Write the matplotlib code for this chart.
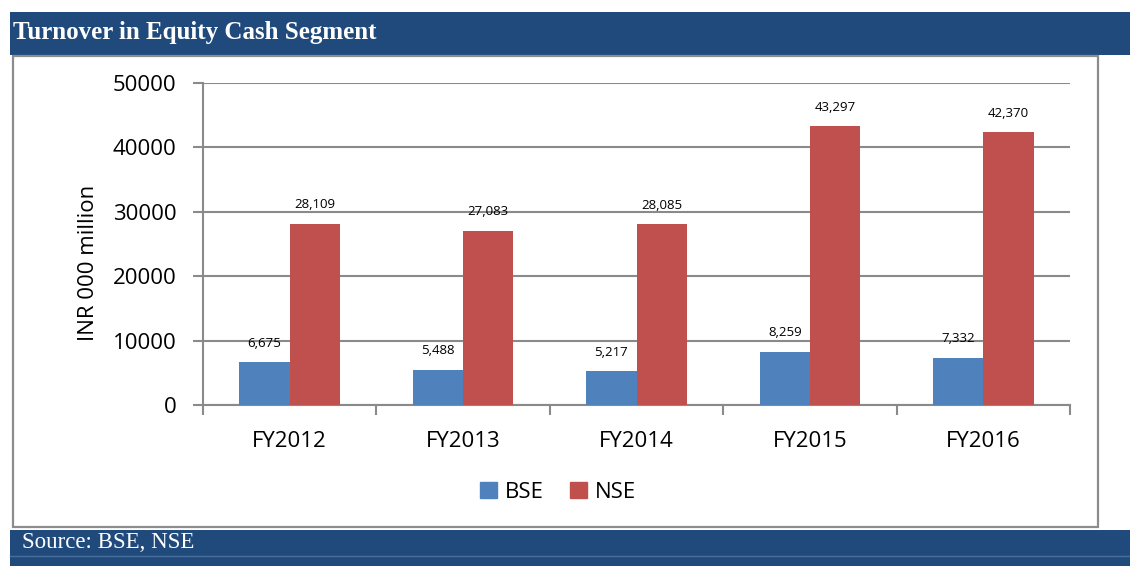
import numpy as np
import matplotlib
matplotlib.use("Agg")
import matplotlib.pyplot as plt
from matplotlib.patches import Rectangle, Patch
from matplotlib.lines import Line2D

# Datos
years = ["FY2012", "FY2013", "FY2014", "FY2015", "FY2016"]
bse = [6675, 5488, 5217, 8259, 7332]
nse = [28109, 27083, 28085, 43297, 42370]
title = "Turnover in Equity Cash Segment"
source = "Source: BSE, NSE"
ylabel = "INR 000 million"

W, H = 1130, 566
fig = plt.figure(figsize=(W / 100, H / 100), dpi=100)
plt.rcParams["font.family"] = ["Open Sans", "DejaVu Sans"]

def fx(px):
    return px / W

def fy(py):
    return 1 - py / H

navy = "#214a7c"
# Cabecera
fig.patches.append(Rectangle((fx(10), fy(55)), fx(W - 10), 43 / H, transform=fig.transFigure,
                             facecolor=navy, edgecolor="none", zorder=0))
fig.text(fx(13), fy(32), title, color="white", fontsize=18, fontweight="bold",
         family="Liberation Serif", va="center", ha="left")
# Marco
fig.patches.append(Rectangle((fx(13), fy(527)), fx(1098 - 13), (527 - 56) / H, transform=fig.transFigure,
                             facecolor="none", edgecolor="#8c8c8c", linewidth=1.6, zorder=0))
# Pie
fig.patches.append(Rectangle((fx(10), 0), fx(W - 10), (H - 530) / H, transform=fig.transFigure,
                             facecolor=navy, edgecolor="none", zorder=0))
fig.lines.append(Line2D([fx(10), 1], [fy(556), fy(556)], transform=fig.transFigure,
                        color="#4a6e9a", linewidth=1))
fig.text(fx(22), fy(543), source, color="white", fontsize=16.5, family="Liberation Serif",
         va="center", ha="left")

# Gráfico
ax = fig.add_axes([fx(203), fy(405), fx(1070 - 203), (405 - 83) / H])
x = np.arange(len(years))
w = 0.29
b1 = ax.bar(x - w / 2, bse, width=w, color="#4f81bd", label="BSE", zorder=3)
b2 = ax.bar(x + w / 2, nse, width=w, color="#c0504d", label="NSE", zorder=3)
for bars, vals in [(b1, bse), (b2, nse)]:
    for r, v in zip(bars, vals):
        ax.annotate(f"{v:,}", (r.get_x() + r.get_width() / 2, v), xytext=(0, 9),
                    textcoords="offset points", ha="center", va="bottom", fontsize=9.5)

ax.set_xlim(-0.5, len(years) - 0.5)
ax.set_ylim(0, 50000)
ax.set_yticks(np.arange(0, 50001, 10000))
ax.yaxis.grid(True, color="#8a8a8a", linewidth=1.5, zorder=0)
ax.set_axisbelow(True)
ax.set_xticks(x)
ax.set_xticklabels(years)
ax.set_xticks(np.arange(-0.5, len(years)), minor=True)
ax.tick_params(axis="x", which="major", length=0, pad=19, labelsize=16)
ax.tick_params(axis="x", which="minor", length=7, width=1.5, color="#8a8a8a")
ax.tick_params(axis="y", length=7, width=1.5, color="#8a8a8a", labelsize=16, pad=12)
for s in ["top", "right"]:
    ax.spines[s].set_visible(False)
for s in ["left", "bottom"]:
    ax.spines[s].set_color("#8a8a8a")
    ax.spines[s].set_linewidth(1.5)

fig.text(fx(88), fy(263), ylabel, rotation=90, fontsize=16, ha="center", va="center")

handles = [Patch(color="#4f81bd", label="BSE"), Patch(color="#c0504d", label="NSE")]
fig.legend(handles=handles, loc="center", bbox_to_anchor=(fx(558), fy(492)), ncol=2,
           frameon=False, fontsize=16, handlelength=0.75, handleheight=0.75,
           handletextpad=0.35, columnspacing=1.2)

plt.savefig("out.png", dpi=100)
